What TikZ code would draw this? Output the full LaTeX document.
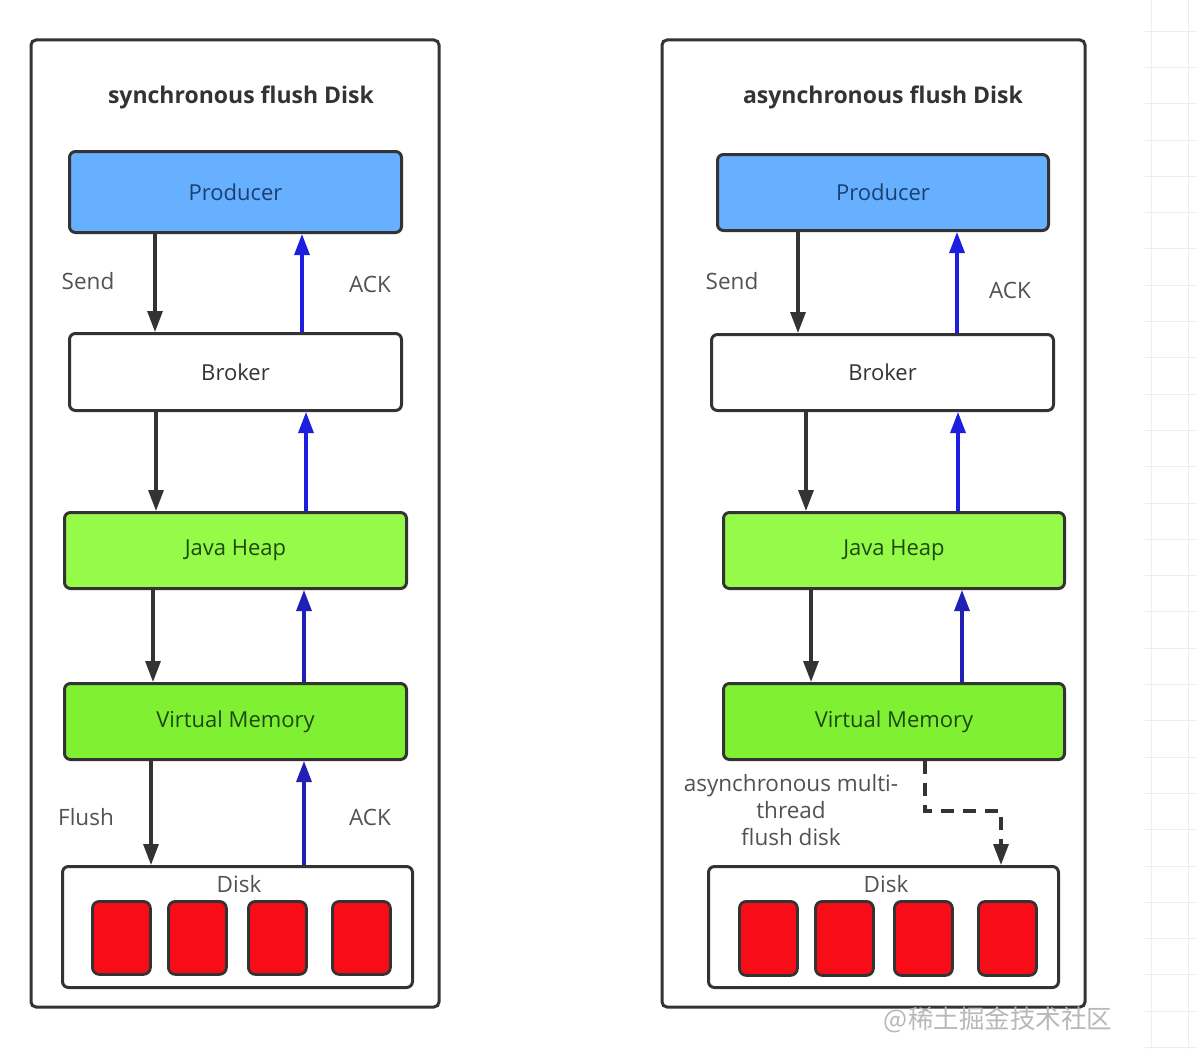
\documentclass[tikz,border=0pt]{standalone}
\usepackage{fontspec}
\setmainfont{Open Sans}
\newfontfamily\cjkfont{Noto Sans CJK SC}
\usetikzlibrary{arrows.meta}
\definecolor{edge}{HTML}{333333}
\definecolor{prodfill}{HTML}{66B0FF}
\definecolor{prodtext}{HTML}{1A4070}
\definecolor{heapfill}{HTML}{96FA48}
\definecolor{vmfill}{HTML}{80F032}
\definecolor{greentext}{HTML}{1E4A10}
\definecolor{diskred}{HTML}{F80C18}
\definecolor{ackblue}{HTML}{1E1EE0}
\definecolor{ackdark}{HTML}{2020B4}
\definecolor{gridgray}{HTML}{EEEEEE}
\tikzset{
  x=1pt, y=-1pt,
  panel/.style={draw=edge, line width=3pt, rounded corners=5pt, fill=white},
  box/.style={draw=edge, line width=3pt, rounded corners=6pt, inner sep=0pt, font=\fontsize{22}{26}\selectfont},
  cell/.style={draw=edge, line width=2.8pt, rounded corners=7pt, fill=diskred},
  lbl/.style={text=edge!85, font=\fontsize{22.5}{27}\selectfont, inner sep=0pt},
  ttl/.style={text=edge, font=\fontsize{23}{26}\selectfont\bfseries, inner sep=0pt},
  down/.style={draw=edge, line width=3.2pt, -{Triangle[width=15pt,length=21pt]}},
  up/.style={draw=ackblue, line width=3.2pt, -{Triangle[width=15pt,length=21pt]}},
  updark/.style={draw=ackdark, line width=3.2pt, -{Triangle[width=15pt,length=21pt]}},
}
\begin{document}
\begin{tikzpicture}
\useasboundingbox (0,0) rectangle (1197,1049);
\fill[white] (0,0) rectangle (1197,1049);
% background grid at right edge
\foreach \gx in {1151,1188} \draw[gridgray, line width=0.8pt] (\gx,0) -- (\gx,1049);
\foreach \k in {0,...,28} \draw[gridgray, line width=0.8pt] (1144,{31+36.3*\k}) -- (1197,{31+36.3*\k});

% ================= left panel =================
\draw[panel] (31,40) rectangle (439,1007);
\node[ttl] (t1) at (241,97) {synchronous flush Disk};
\node[box, fill=prodfill, text=prodtext, minimum width=332pt, minimum height=81pt, anchor=north west] (p1) at (68,150) {Producer};
\node[box, fill=white, text=edge, minimum width=332pt, minimum height=77pt, anchor=north west] (b1) at (68,332) {Broker};
\node[box, fill=heapfill, text=greentext, minimum width=342pt, minimum height=76pt, anchor=north west] (h1) at (63,511) {Java Heap};
\node[box, fill=vmfill, text=greentext, minimum width=342pt, minimum height=76pt, anchor=north west] (v1) at (63,682) {Virtual Memory};
\node[box, fill=white, minimum width=350pt, minimum height=121pt, anchor=north west] (d1) at (61,865) {};
\node[lbl] (dl1) at (239,884) {Disk};
\node[cell, minimum width=58pt, minimum height=73pt, anchor=north west] (c11) at (91,900) {};
\node[cell, minimum width=58pt, minimum height=73pt, anchor=north west] (c12) at (167,900) {};
\node[cell, minimum width=58pt, minimum height=73pt, anchor=north west] (c13) at (247,900) {};
\node[cell, minimum width=58pt, minimum height=73pt, anchor=north west] (c14) at (331,900) {};

\draw[down] (p1.south -| 155,0) -- (b1.north -| 155,0);
\draw[up] (b1.north -| 302,0) -- (p1.south -| 302,0);
\draw[down] (b1.south -| 156,0) -- (h1.north -| 156,0);
\draw[up] (h1.north -| 306,0) -- (b1.south -| 306,0);
\draw[down] (h1.south -| 153,0) -- (v1.north -| 153,0);
\draw[updark] (v1.north -| 304,0) -- (h1.south -| 304,0);
\draw[down] (v1.south -| 151,0) -- (d1.north -| 151,0);
\draw[updark] (d1.north -| 304,0) -- (v1.south -| 304,0);
\node[lbl] (s1) at (88,281) {Send};
\node[lbl] (a1) at (370,284) {ACK};
\node[lbl] (f1) at (86,817) {Flush};
\node[lbl] (a2) at (370,817) {ACK};

% ================= right panel =================
\draw[panel] (662,40) rectangle (1085,1007);
\node[ttl] (t2) at (883,97) {asynchronous flush Disk};
\node[box, fill=prodfill, text=prodtext, minimum width=331pt, minimum height=76pt, anchor=north west] (p2) at (716,153) {Producer};
\node[box, fill=white, text=edge, minimum width=342pt, minimum height=76pt, anchor=north west] (b2) at (710,333) {Broker};
\node[box, fill=heapfill, text=greentext, minimum width=341pt, minimum height=76pt, anchor=north west] (h2) at (722,511) {Java Heap};
\node[box, fill=vmfill, text=greentext, minimum width=341pt, minimum height=76pt, anchor=north west] (v2) at (722,682) {Virtual Memory};
\node[box, fill=white, minimum width=350pt, minimum height=121pt, anchor=north west] (d2) at (707,865) {};
\node[lbl] (dl2) at (886,884) {Disk};
\node[cell, minimum width=58pt, minimum height=74pt, anchor=north west] (c21) at (738,900) {};
\node[cell, minimum width=58pt, minimum height=74pt, anchor=north west] (c22) at (814,900) {};
\node[cell, minimum width=58pt, minimum height=74pt, anchor=north west] (c23) at (893,900) {};
\node[cell, minimum width=58pt, minimum height=74pt, anchor=north west] (c24) at (977,900) {};

\draw[down] (p2.south -| 798,0) -- (b2.north -| 798,0);
\draw[up] (b2.north -| 957,0) -- (p2.south -| 957,0);
\draw[down] (b2.south -| 806,0) -- (h2.north -| 806,0);
\draw[up] (h2.north -| 958,0) -- (b2.south -| 958,0);
\draw[down] (h2.south -| 811,0) -- (v2.north -| 811,0);
\draw[updark] (v2.north -| 962,0) -- (h2.south -| 962,0);
\coordinate (k1) at (925,811);
\coordinate (k2) at (1001,811);
\draw[down, dash pattern=on 13pt off 9pt] (v2.south -| 925,0) -- (k1) -- (k2) -- (d2.north -| 1001,0);
\node[lbl] (s2) at (732,281) {Send};
\node[lbl] (a3) at (1010,290) {ACK};
\node[lbl, align=center] (m2) at (791,810) {asynchronous multi-\\thread\\flush disk};

% watermark
\node[text=black!28, font=\cjkfont\fontsize{25.5}{28}\selectfont, inner sep=0pt] (wm) at (998,1020) {@稀土掘金技术社区};
\end{tikzpicture}
\end{document}
